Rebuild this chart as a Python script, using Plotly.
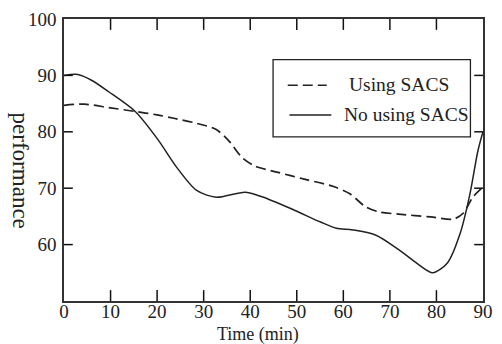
import plotly.graph_objects as go

time_using = [0, 4.4, 9.6, 15.3, 20, 23.6, 28.5, 32.7, 35.5, 38.3, 41.1, 46, 51.6, 57.9, 61.4, 64.8, 67.7, 71.9, 78.8, 83.6, 85.8, 87.8, 90]
perf_using = [84.7, 84.9, 84.3, 83.6, 83.0, 82.4, 81.5, 80.4, 78.3, 75.4, 73.9, 72.8, 71.6, 70.3, 69.0, 66.7, 65.8, 65.4, 64.9, 64.5, 65.6, 68.4, 70.2]

time_no = [0, 3, 6, 9.6, 15.3, 20.1, 24.3, 28.5, 32.7, 39, 43.8, 49.5, 55.1, 58.5, 62, 66.9, 71.9, 76.1, 79.2, 82.4, 85.1, 87.2, 88.9, 90]
perf_no = [90.0, 90.15, 89.1, 87.1, 83.6, 78.7, 73.6, 69.6, 68.4, 69.3, 68.1, 66.1, 64.0, 62.9, 62.6, 61.7, 59.1, 56.5, 55.0, 56.8, 62.0, 69.0, 76.6, 80.0]

series_names = ["Using SACS", "No using SACS"]
x_ticks = [0, 10, 20, 30, 40, 50, 60, 70, 80, 90]
y_ticks = [60, 70, 80, 90, 100]
x_title = "Time (min)"
y_title = "performance"

serif = "Liberation Serif, Times New Roman, serif"
ink = "#222222"
dash_style = "10px,5px"

W, H = 502, 344
ML, MR, MT, MB = 64, 9, 16, 43
x_range = [0, 90]
y_range = [50, 100]
x_per_px = (x_range[1] - x_range[0]) / (W - ML - MR)
y_per_px = (y_range[1] - y_range[0]) / (H - MT - MB)
xtick_len = 11 * y_per_px   # vertical ticks on x axis, in y units
ytick_len = 9 * x_per_px    # horizontal ticks on y axis, in x units

fig = go.Figure()
fig.add_trace(go.Scatter(
    x=time_using, y=perf_using, mode="lines", name=series_names[0], showlegend=False,
    line=dict(color=ink, width=1.7, dash=dash_style, shape="spline", smoothing=0.8),
))
fig.add_trace(go.Scatter(
    x=time_no, y=perf_no, mode="lines", name=series_names[1], showlegend=False,
    line=dict(color=ink, width=1.5, shape="spline", smoothing=0.8),
))

# inward tick marks on all four sides, drawn as a line trace in data coordinates
tx, ty = [], []
for xv in x_ticks[1:-1]:
    tx += [xv, xv, None, xv, xv, None]
    ty += [y_range[0], y_range[0] + xtick_len, None, y_range[1], y_range[1] - xtick_len, None]
for yv in y_ticks[:-1]:
    tx += [x_range[0], x_range[0] + ytick_len, None, x_range[1], x_range[1] - ytick_len, None]
    ty += [yv, yv, None, yv, yv, None]
fig.add_trace(go.Scatter(
    x=tx, y=ty, mode="lines", showlegend=False, hoverinfo="skip", connectgaps=False,
    line=dict(color="#111111", width=1.5),
))

axis_common = dict(
    showgrid=False, zeroline=False, showline=True, linecolor="#333333", linewidth=1.5,
    ticks="", mirror=True,
    tickfont=dict(family=serif, size=19, color=ink),
)

fig.update_xaxes(range=x_range, tickvals=x_ticks, ticktext=[str(v) for v in x_ticks],
                 ticklabelstandoff=-8, **axis_common)
fig.update_yaxes(range=y_range, tickvals=y_ticks, ticktext=[str(v) for v in y_ticks],
                 ticklabelstandoff=2, **axis_common)

# Legend drawn manually to match the reference box
shapes = [
    dict(type="rect", xref="paper", yref="paper", x0=0.499, x1=0.970, y0=0.582, y1=0.856,
         line=dict(color=ink, width=1.3), fillcolor="white", layer="above"),
    dict(type="line", xref="paper", yref="paper", x0=0.534, x1=0.627, y0=0.765, y1=0.765,
         line=dict(color=ink, width=1.7, dash=dash_style), layer="above"),
    dict(type="line", xref="paper", yref="paper", x0=0.538, x1=0.638, y0=0.660, y1=0.660,
         line=dict(color=ink, width=1.5), layer="above"),
]
annotations = [
    dict(text=series_names[0], xref="paper", yref="paper", x=0.675, y=0.767, xanchor="left", yanchor="middle",
         showarrow=False, font=dict(family=serif, size=19.5, color=ink)),
    dict(text=series_names[1], xref="paper", yref="paper", x=0.664, y=0.662, xanchor="left", yanchor="middle",
         showarrow=False, font=dict(family=serif, size=19.5, color=ink)),
    dict(text=x_title, xref="paper", yref="paper", x=0.464, y=-0.118, xanchor="center", yanchor="middle",
         showarrow=False, font=dict(family=serif, size=18, color=ink)),
    dict(text=y_title, xref="paper", yref="paper", x=-0.103, y=0.463, xanchor="center", yanchor="middle",
         textangle=90, showarrow=False, font=dict(family=serif, size=23, color=ink)),
]

fig.update_layout(
    width=W, height=H,
    margin=dict(l=ML, r=MR, t=MT, b=MB),
    paper_bgcolor="white", plot_bgcolor="white",
    showlegend=False,
    shapes=shapes, annotations=annotations,
)

fig.write_html("out.html")
